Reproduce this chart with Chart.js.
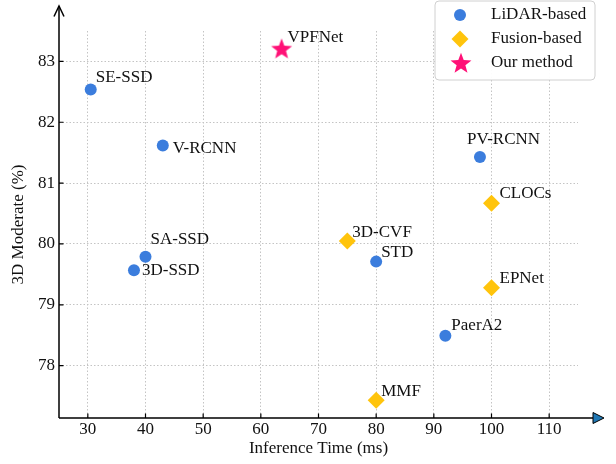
<!DOCTYPE html>
<html>
<head>
<meta charset="utf-8">
<script src="https://cdn.jsdelivr.net/npm/chart.js@4/dist/chart.umd.min.js"></script>
<style>
  html, body { margin: 0; padding: 0; background: #fff; }
  #wrap { width: 616px; height: 464px; }
</style>
</head>
<body>
<div id="wrap"><canvas id="chart" width="616" height="464"></canvas></div>
<script>
// values
const lidarNames = ['SE-SSD', 'V-RCNN', 'PV-RCNN', 'SA-SSD', '3D-SSD', 'STD', 'PaerA2'];
const lidarTime  = [30.5, 43, 98, 40, 38, 80, 92];
const lidarAP    = [82.54, 81.62, 81.43, 79.79, 79.57, 79.71, 78.49];

const fusionNames = ['CLOCs', '3D-CVF', 'EPNet', 'MMF'];
const fusionTime  = [100, 75, 100, 80];
const fusionAP    = [80.67, 80.05, 79.28, 77.43];

const oursNames = ['VPFNet'];
const oursTime  = [63.6];
const oursAP    = [83.21];

const seriesLabels = ['LiDAR-based', 'Fusion-based', 'Our method'];
const xTicks = [30, 40, 50, 60, 70, 80, 90, 100, 110];
const yTicks = [78, 79, 80, 81, 82, 83];

const FONT = "'Liberation Serif', 'Times New Roman', serif";
const BLUE = '#3b7ddd', YELLOW = '#ffc40c', PINK = '#ff1177';

Chart.defaults.font.family = FONT;
Chart.defaults.font.size = 17;
Chart.defaults.color = '#111';

// label offsets from the marker (px), left-aligned text
const labelOffset = {
  'SE-SSD': [5, -12], 'V-RCNN': [10, 3], 'PV-RCNN': [-13, -17], 'SA-SSD': [5, -17],
  '3D-SSD': [8, 0], 'STD': [5, -9], 'PaerA2': [6, -10],
  'CLOCs': [8, -10], '3D-CVF': [5, -8], 'EPNet': [8, -9], 'MMF': [5, -9],
  'VPFNet': [6, -11],
};

function starPath(ctx, cx, cy, R, r) {
  ctx.beginPath();
  for (let i = 0; i < 10; i++) {
    const a = -Math.PI / 2 + i * Math.PI / 5;
    const rad = i % 2 ? r : R;
    ctx.lineTo(cx + rad * Math.cos(a), cy + rad * Math.sin(a));
  }
  ctx.closePath();
}

function makeStar(R) {
  const c = document.createElement('canvas');
  c.width = c.height = Math.ceil(R * 2 + 2);
  const g = c.getContext('2d');
  starPath(g, c.width / 2, c.height / 2 + 0.8, R, R * 0.42);
  g.fillStyle = PINK;
  g.fill();
  return c;
}
const starImg = makeStar(11);

const toPts = (xs, ys) => xs.map((x, i) => ({ x, y: ys[i] }));

const decor = {
  id: 'decor',
  afterDatasetsDraw(chart) {
    const ctx = chart.ctx;
    ctx.save();
    ctx.font = '17px ' + FONT;
    ctx.fillStyle = '#111';
    ctx.textBaseline = 'middle';
    ctx.textAlign = 'left';
    const names = [lidarNames, fusionNames, oursNames];
    chart.data.datasets.forEach((ds, di) => {
      chart.getDatasetMeta(di).data.forEach((pt, i) => {
        const n = names[di][i];
        const off = labelOffset[n] || [6, -10];
        ctx.fillText(n, pt.x + off[0], pt.y + off[1]);
      });
    });
    ctx.restore();
  },
  afterDraw(chart) {
    const ctx = chart.ctx;
    const a = chart.chartArea;
    const xs = chart.scales.x, ys = chart.scales.y;
    ctx.save();
    ctx.strokeStyle = '#000';
    ctx.lineWidth = 1.5;
    // axes
    ctx.beginPath();
    ctx.moveTo(a.left, a.bottom);
    ctx.lineTo(a.left, 6);
    ctx.moveTo(a.left, a.bottom);
    ctx.lineTo(594, a.bottom);
    ctx.stroke();
    // y arrow (open)
    ctx.beginPath();
    ctx.moveTo(a.left - 5, 16.5);
    ctx.lineTo(a.left, 6);
    ctx.lineTo(a.left + 5, 16.5);
    ctx.stroke();
    // x arrow (filled)
    ctx.beginPath();
    ctx.moveTo(593, a.bottom - 5.5);
    ctx.lineTo(604, a.bottom);
    ctx.lineTo(593, a.bottom + 5.5);
    ctx.closePath();
    ctx.fillStyle = '#1f77b4';
    ctx.fill();
    ctx.lineWidth = 1;
    ctx.stroke();
    // inward ticks
    ctx.lineWidth = 1.2;
    ctx.beginPath();
    xTicks.forEach(v => {
      const px = xs.getPixelForValue(v);
      ctx.moveTo(px, a.bottom);
      ctx.lineTo(px, a.bottom - 4.5);
    });
    yTicks.forEach(v => {
      const py = ys.getPixelForValue(v);
      ctx.moveTo(a.left, py);
      ctx.lineTo(a.left + 4.5, py);
    });
    ctx.stroke();

    // tick labels
    ctx.fillStyle = '#111';
    ctx.font = '17px ' + FONT;
    ctx.textBaseline = 'middle';
    ctx.textAlign = 'center';
    xTicks.forEach(v => ctx.fillText(String(v), xs.getPixelForValue(v), a.bottom + 12));
    ctx.textAlign = 'right';
    yTicks.forEach(v => ctx.fillText(String(v), a.left - 4, ys.getPixelForValue(v)));

    // axis titles
    ctx.textAlign = 'center';
    ctx.fillText('Inference Time (ms)', (a.left + a.right) / 2, 449);
    ctx.save();
    ctx.translate(19, (a.top + a.bottom) / 2);
    ctx.rotate(-Math.PI / 2);
    ctx.fillText('3D Moderate (%)', 0, 0);
    ctx.restore();

    // legend
    const bx = 435, by = 1, bw = 160, bh = 79;
    ctx.beginPath();
    ctx.roundRect(bx, by, bw, bh, 4);
    ctx.fillStyle = 'rgba(255,255,255,0.95)';
    ctx.fill();
    ctx.strokeStyle = '#d0d0d0';
    ctx.lineWidth = 1;
    ctx.stroke();
    const rows = [15, 39, 63];
    // circle
    ctx.beginPath();
    ctx.arc(460, rows[0], 6, 0, Math.PI * 2);
    ctx.fillStyle = BLUE;
    ctx.fill();
    // diamond
    ctx.beginPath();
    ctx.moveTo(460, rows[1] - 8.5);
    ctx.lineTo(468.5, rows[1]);
    ctx.lineTo(460, rows[1] + 8.5);
    ctx.lineTo(451.5, rows[1]);
    ctx.closePath();
    ctx.fillStyle = YELLOW;
    ctx.fill();
    // star
    starPath(ctx, 461, rows[2] + 0.8, 11, 4.6);
    ctx.fillStyle = PINK;
    ctx.fill();
    ctx.fillStyle = '#111';
    ctx.textAlign = 'left';
    seriesLabels.forEach((t, i) => ctx.fillText(t, 491, rows[i]));
    ctx.restore();
  }
};

new Chart(document.getElementById('chart'), {
  type: 'scatter',
  data: {
    datasets: [
      { label: seriesLabels[0], data: toPts(lidarTime, lidarAP), pointStyle: 'circle',
        pointRadius: 6, backgroundColor: BLUE, borderWidth: 0 },
      { label: seriesLabels[1], data: toPts(fusionTime, fusionAP), pointStyle: 'rectRot',
        pointRadius: 8.5, backgroundColor: YELLOW, borderWidth: 0 },
      { label: seriesLabels[2], data: toPts(oursTime, oursAP), pointStyle: starImg,
        pointRadius: 11, backgroundColor: PINK, borderWidth: 0 },
    ]
  },
  options: {
    responsive: false,
    animation: false,
    layout: { padding: { top: 31, right: 38, left: 0, bottom: 0 } },
    plugins: { legend: { display: false }, tooltip: { enabled: false } },
    scales: {
      x: {
        type: 'linear', min: 25, max: 115,
        afterBuildTicks: s => { s.ticks = xTicks.map(v => ({ value: v })); },
        afterFit: s => { s.height = 46; },
        grid: { color: '#c4c4c4', lineWidth: 1, drawTicks: false },
        border: { display: false, dash: [1.5, 2] },
        ticks: { display: false }
      },
      y: {
        type: 'linear', min: 77.14, max: 83.5,
        afterBuildTicks: s => { s.ticks = yTicks.map(v => ({ value: v })); },
        afterFit: s => { s.width = 59; },
        grid: { color: '#c4c4c4', lineWidth: 1, drawTicks: false },
        border: { display: false, dash: [1.5, 2] },
        ticks: { display: false }
      }
    }
  },
  plugins: [decor]
});
</script>
</body>
</html>
